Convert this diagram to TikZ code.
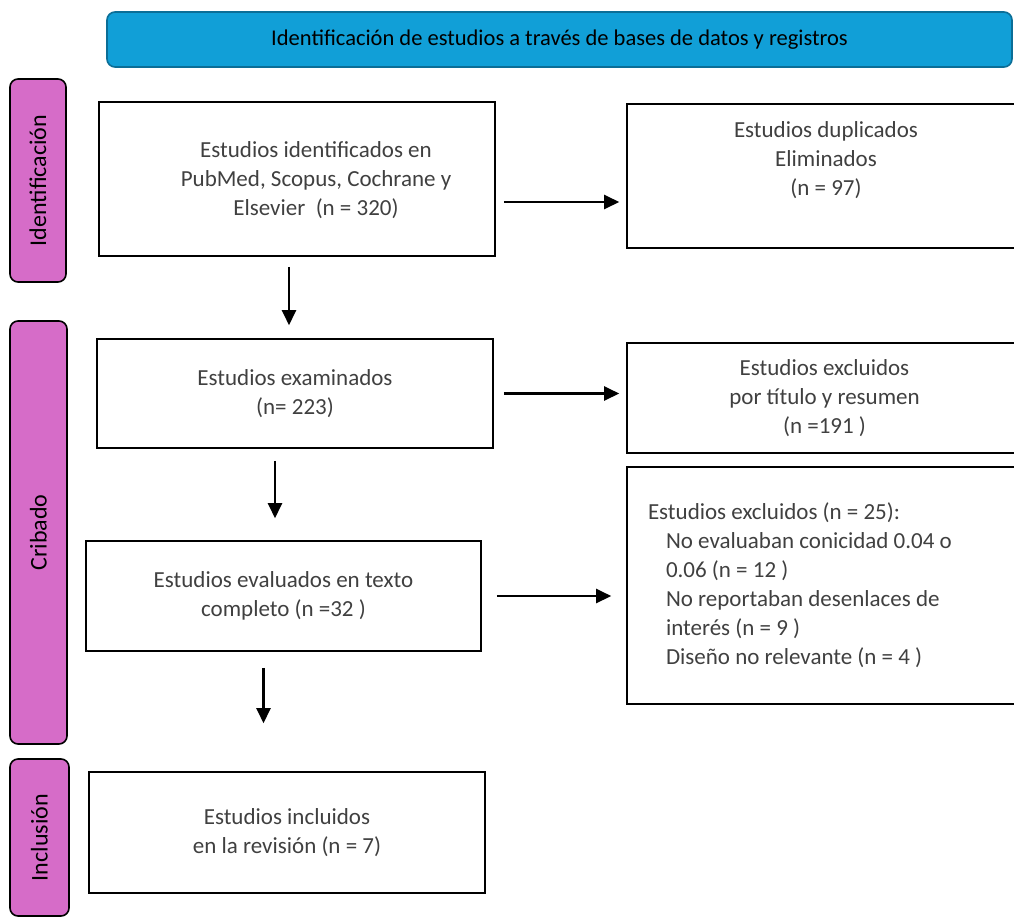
\documentclass[tikz,border=0pt]{standalone}
\usepackage{fontspec}
\setmainfont{Carlito}
\usetikzlibrary{arrows.meta}
\definecolor{bannerblue}{HTML}{119FD7}
\definecolor{bannerline}{HTML}{0B6E97}
\definecolor{phasepink}{HTML}{D66CC8}
\definecolor{txtgray}{HTML}{404040}
\tikzset{%
  box/.style={draw=black, line width=1.6pt, inner sep=0pt, text=txtgray, align=center, font=\fontsize{23}{29}\selectfont},%
  boxtext/.style={text=txtgray, align=center, inner sep=0pt, font=\fontsize{23}{29}\selectfont},%
  phase/.style={draw=black, line width=1.6pt, fill=phasepink, rounded corners=8pt, rotate=90, inner sep=0pt, font=\fontsize{24}{28}\selectfont},%
  banner/.style={draw=bannerline, line width=1.6pt, fill=bannerblue, rounded corners=8pt, inner sep=0pt, font=\fontsize{22.5}{26}\selectfont},%
  flow/.style={line width=2.4pt, -{Triangle[length=15pt,width=14pt]}}%
}
\begin{document}
\begin{tikzpicture}[x=1pt, y=-1pt]%
\useasboundingbox (0,0) rectangle (1014,918);%
% banner and phases
\node[banner, minimum width=905pt, minimum height=55pt] (head) at (559.5,39.5) {Identificación de estudios a través de bases de datos y registros};%
\node[phase, minimum width=203pt, minimum height=56pt] (fase1) at (38,180.5) {Identificación};%
\node[phase, minimum width=423pt, minimum height=57pt] (fase2) at (38.5,532.5) {Cribado};%
\node[phase, minimum width=157pt, minimum height=59pt] (fase3) at (39.5,837.5) {Inclusión};%
% left column
\node[box, minimum width=396pt, minimum height=154pt] (ident) at (297,179) {};%
\node[boxtext] (identtxt) at (316,180) {Estudios identificados en\\PubMed, Scopus, Cochrane y\\Elsevier~ (n = 320)};%
\node[box, minimum width=396pt, minimum height=109pt] (exam) at (295,393.5) {Estudios examinados\\(n= 223)};%
\node[box, minimum width=395pt, minimum height=110pt] (eval) at (283.5,596) {Estudios evaluados en texto\\completo (n =32 )};%
\node[box, minimum width=396pt, minimum height=121pt] (incl) at (287,832.5) {Estudios incluidos\\en la revisión (n = 7)};%
% right column
\node[box, minimum width=395pt, minimum height=144pt] (dup) at (824.5,176) {};%
\node[boxtext] (duptxt) at (826,160) {Estudios duplicados\\Eliminados\\(n = 97)};%
\node[box, minimum width=395pt, minimum height=110pt] (excl) at (824.5,398) {Estudios excluidos\\por título y resumen\\(n =191 )};%
\node[box, minimum width=395pt, minimum height=237pt, text width=353pt, align=flush left, inner xsep=21pt] (exclt) at (824.5,585.5) {Estudios excluidos (n = 25):\\\hspace*{18pt}No evaluaban conicidad 0.04 o\\\hspace*{18pt}0.06 (n = 12 )\\\hspace*{18pt}No reportaban desenlaces de\\\hspace*{18pt}interés (n = 9 )\\\hspace*{18pt}Diseño no relevante (n = 4 )};%
% arrows
\draw[flow, shorten <=8pt, shorten >=7pt] ([yshift=-23pt]ident.east) -- ([yshift=-23pt]ident.east -| dup.west);%
\draw[flow, shorten <=10pt, shorten >=7pt] (exam.east) -- (exam.east -| excl.west);%
\draw[flow, shorten <=15pt, shorten >=15pt] (eval.east) -- (eval.east -| exclt.west);%
\draw[flow, shorten <=10pt, shorten >=13pt] ([xshift=-8pt]ident.south) -- ([xshift=-8pt]ident.south |- exam.north);%
\draw[flow, shorten <=12pt, shorten >=22pt] ([xshift=-20pt]exam.south) -- ([xshift=-20pt]exam.south |- eval.north);%
\draw[flow, shorten <=16pt, shorten >=48pt] ([xshift=-20pt]eval.south) -- ([xshift=-20pt]eval.south |- incl.north);%
\end{tikzpicture}
\end{document}
